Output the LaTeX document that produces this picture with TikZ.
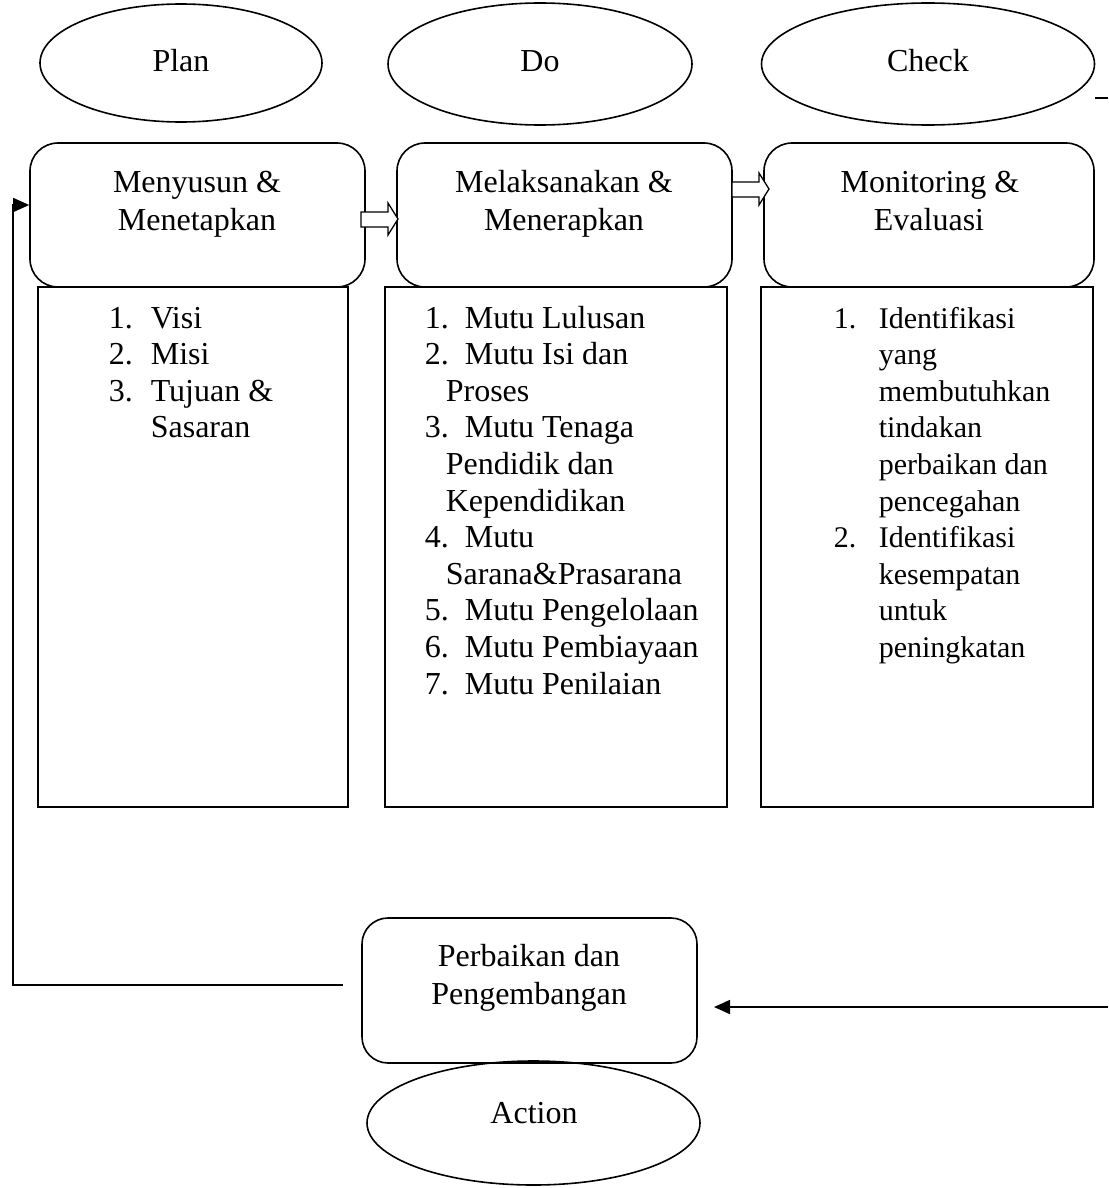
\documentclass[tikz,border=0pt]{standalone}
\usepackage{fontspec}
\setmainfont{Liberation Serif}
\usetikzlibrary{shapes.geometric,arrows.meta}
\begin{document}
\begin{tikzpicture}[x=1pt,y=-1pt,
  font=\fontsize{32}{37}\selectfont,
  line width=1.6pt,
  oval/.style={ellipse,draw,inner sep=0pt},
  headbox/.style={draw,rounded corners=28pt,inner sep=0pt},
  listbox/.style={draw,inner sep=0pt},
  txt/.style={anchor=base,inner sep=0pt},
  ltxt/.style={anchor=base west,inner sep=0pt},
  ctxt/.style={anchor=base west,inner sep=0pt,font=\fontsize{30}{37}\selectfont},
  blockarrow/.style={draw,fill=white,line width=1.3pt,line join=miter},
  tip/.style={-{Triangle[length=16pt 0 0,width=14pt 0 0]}}
]
\useasboundingbox (0,0) rectangle (1108,1188);

% ellipses
\node[oval,minimum width=282pt,minimum height=118pt] (planE) at (181,63) {};
\node[oval,minimum width=304pt,minimum height=122pt] (doE) at (540,64) {};
\node[oval,minimum width=333pt,minimum height=122pt] (checkE) at (928,64) {};
\node[txt] (planT) at (181,72) {Plan};
\node[txt] (doT) at (540,72) {Do};
\node[txt] (checkT) at (928,72) {Check};

% list boxes
\node[listbox,minimum width=310pt,minimum height=520pt] (list1) at (193,547) {};
\node[listbox,minimum width=342pt,minimum height=520pt] (list2) at (556,547) {};
\node[listbox,minimum width=332pt,minimum height=520pt] (list3) at (927,547) {};

% header boxes
\node[headbox,minimum width=335pt,minimum height=144pt] (box1) at (197.5,215) {};
\node[headbox,minimum width=335pt,minimum height=144pt] (box2) at (564.5,215) {};
\node[headbox,minimum width=330pt,minimum height=144pt] (box3) at (929,215) {};
\node[txt] (h1a) at (197,192) {Menyusun \&};
\node[txt] (h1b) at (197,230) {Menetapkan};
\node[txt] (h2a) at (564,192) {Melaksanakan \&};
\node[txt] (h2b) at (564,230) {Menerapkan};
\node[txt] (h3a) at (930,192) {Monitoring \&};
\node[txt] (h3b) at (929,230) {Evaluasi};

% block arrows
\draw[blockarrow] (361,212) -- (388,212) -- (388,203) -- (398,219) -- (388,235) -- (388,227) -- (361,227) -- cycle;
\draw[blockarrow] (732,182) -- (759,182) -- (759,173) -- (769,189) -- (759,205) -- (759,197) -- (732,197) -- cycle;

% Plan list
\node[ltxt] (p1n) at (108,328) {1.};
\node[ltxt] (p1) at (150,328) {Visi};
\node[ltxt] (p2n) at (108,364.6) {2.};
\node[ltxt] (p2) at (150,364.6) {Misi};
\node[ltxt] (p3n) at (108,401.2) {3.};
\node[ltxt] (p3) at (150,401.2) {Tujuan \&};
\node[ltxt] (p3b) at (150,437.8) {Sasaran};

% Do list
\node[ltxt] (d1) at (424,328) {1.\ \ Mutu Lulusan};
\node[ltxt] (d2) at (424,364.6) {2.\ \ Mutu Isi dan};
\node[ltxt] (d2b) at (445,401.2) {Proses};
\node[ltxt] (d3) at (424,437.8) {3.\ \ Mutu Tenaga};
\node[ltxt] (d3b) at (445,474.4) {Pendidik dan};
\node[ltxt] (d3c) at (445,511) {Kependidikan};
\node[ltxt] (d4) at (424,547.6) {4.\ \ Mutu};
\node[ltxt] (d4b) at (445,584.2) {Sarana\&Prasarana};
\node[ltxt] (d5) at (424,620.8) {5.\ \ Mutu Pengelolaan};
\node[ltxt] (d6) at (424,657.4) {6.\ \ Mutu Pembiayaan};
\node[ltxt] (d7) at (424,694) {7.\ \ Mutu Penilaian};

% Check list
\node[ctxt] (c1n) at (833,328) {1.};
\node[ctxt] (c1) at (878,328) {Identifikasi};
\node[ctxt] (c1b) at (878,364.6) {yang};
\node[ctxt] (c1c) at (878,401.2) {membutuhkan};
\node[ctxt] (c1d) at (878,437.8) {tindakan};
\node[ctxt] (c1e) at (878,474.4) {perbaikan dan};
\node[ctxt] (c1f) at (878,511) {pencegahan};
\node[ctxt] (c2n) at (833,547.6) {2.};
\node[ctxt] (c2) at (878,547.6) {Identifikasi};
\node[ctxt] (c2b) at (878,584.2) {kesempatan};
\node[ctxt] (c2c) at (878,620.8) {untuk};
\node[ctxt] (c2d) at (878,657.4) {peningkatan};

% Action box and ellipse
\node[headbox,minimum width=335pt,minimum height=145pt,rounded corners=26pt] (actbox) at (529.5,990.5) {};
\node[txt] (act1) at (529,966) {Perbaikan dan};
\node[txt] (act2) at (529,1004) {Pengembangan};
\node[oval,minimum width=333pt,minimum height=124pt] (actE) at (533.5,1123) {};
\node[txt] (actT) at (534,1123) {Action};

% connectors
\coordinate (lstart) at (343,985);
\coordinate (lcorner) at (13,985);
\coordinate (ltop) at (13,205);
\draw[tip] (lstart) -- (lcorner) -- (ltop) -- (ltop -| box1.west);

\coordinate (rstart) at (1108,1007);
\coordinate (rend) at (714,1007);
\draw[tip] (rstart) -- (rend);
\coordinate (cstub) at (1108,98);
\coordinate (cstubl) at (1095,98);
\draw (cstubl) -- (cstub);
\end{tikzpicture}
\end{document}
